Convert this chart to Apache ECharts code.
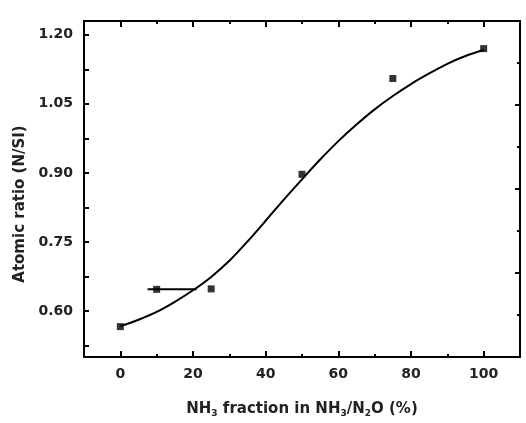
<!DOCTYPE html>
<html>
<head>
<meta charset="utf-8">
<script src="https://cdn.jsdelivr.net/npm/echarts@6/dist/echarts.min.js"></script>
<style>
  html, body { margin: 0; padding: 0; background: #fff; }
  #chart { width: 526px; height: 423px; }
</style>
</head>
<body>
<div id="chart"></div>
<script>
// measured points
var xData = [0, 10, 25, 50, 75, 100]
var yData = [0.566, 0.647, 0.648, 0.897, 1.105, 1.170]
// fitted curve
var fitX = [0, 5, 10, 15, 20, 25, 30, 35, 40, 45, 50, 55, 60, 65, 70, 75, 80, 85, 90, 95, 100]
var fitY = [0.567, 0.581, 0.598, 0.620, 0.645, 0.674, 0.709, 0.751, 0.796, 0.842, 0.886, 0.929, 0.969, 1.005, 1.038, 1.067, 1.093, 1.116, 1.137, 1.154, 1.167]
// horizontal bar at the 10 % point
var errX = [7.5, 21]
var errY = 0.647
// ticks
var xMajor = [0, 20, 40, 60, 80, 100]
var xMinor = [10, 30, 50, 70, 90]
var yMajor = [0.60, 0.75, 0.90, 1.05, 1.20]
var yMinor = [0.525, 0.675, 0.825, 0.975, 1.125]

var chart = echarts.init(document.getElementById('chart'))

var font = { fontFamily: 'DejaVu Sans', fontWeight: 'bold', color: '#222' }
var black = { color: '#000', width: 2 }

function xAx(pos, ticks, len, main) {
  return {
    type: 'value', position: pos, min: -10, max: 110,
    axisLine: { show: main, onZero: false, lineStyle: black },
    axisTick: { inside: true, length: len, customValues: ticks, lineStyle: black },
    axisLabel: pos == 'bottom' && main
      ? Object.assign({ customValues: xMajor, fontSize: 14, margin: 10 }, font)
      : { show: false },
    splitLine: { show: false }
  }
}
function yAx(ticks, len, main) {
  return {
    type: 'value', position: 'left', min: 0.5, max: 1.23,
    axisLine: { show: main, onZero: false, lineStyle: black },
    axisTick: { inside: true, length: len, customValues: ticks, lineStyle: black },
    axisLabel: main
      ? Object.assign({ customValues: yMajor, fontSize: 14, margin: 11,
          formatter: function (v) { return v.toFixed(2) } }, font)
      : { show: false },
    splitLine: { show: false }
  }
}

var xMain = xAx('bottom', xMajor, 6, true)
xMain.name = 'NH{s|3} fraction in NH{s|3}/N{s|2}O (%)'
xMain.nameLocation = 'middle'
xMain.nameGap = 44
xMain.nameTextStyle = Object.assign({ fontSize: 15,
  rich: { s: Object.assign({ fontSize: 9, verticalAlign: 'bottom', padding: [8, 0, 0, 0] }, font) } }, font)

var yMain = yAx(yMajor, 5, true)
yMain.name = 'Atomic ratio (N/SI)'
yMain.nameLocation = 'middle'
yMain.nameGap = 56
yMain.nameTextStyle = Object.assign({ fontSize: 15, padding: [0, 30, 0, 0] }, font)

var option = {
  animation: false,
  grid: { left: 84, right: 6, top: 21, bottom: 64 },
  xAxis: [
    xMain,
    xAx('bottom', xMinor, 3, false),
    xAx('top', xMajor, 6, true),
    xAx('top', xMinor, 3, false)
  ],
  yAxis: [
    yMain,
    yAx(yMinor, 5, false),
    {
      // mirror axis on the right, own tick spacing
      type: 'value', position: 'right', min: 0, max: 8, interval: 2,
      axisLine: { show: true, onZero: false, lineStyle: black },
      axisTick: { inside: true, length: 5, lineStyle: black },
      minorTick: { show: true, splitNumber: 2, length: 3, lineStyle: black },
      axisLabel: { show: false },
      splitLine: { show: false }
    }
  ],
  series: [
    {
      type: 'line',
      data: fitX.map(function (x, i) { return [x, fitY[i]] }),
      smooth: 0.3,
      showSymbol: false,
      lineStyle: { color: '#000', width: 2 }
    },
    {
      type: 'line',
      data: errX.map(function (x) { return [x, errY] }),
      showSymbol: false,
      lineStyle: { color: '#000', width: 2 }
    },
    {
      type: 'scatter',
      data: xData.map(function (x, i) { return [x, yData[i]] }),
      symbol: 'rect',
      symbolSize: 7,
      itemStyle: { color: '#000' },
      z: 5
    }
  ]
}
chart.setOption(option)
</script>
</body>
</html>
